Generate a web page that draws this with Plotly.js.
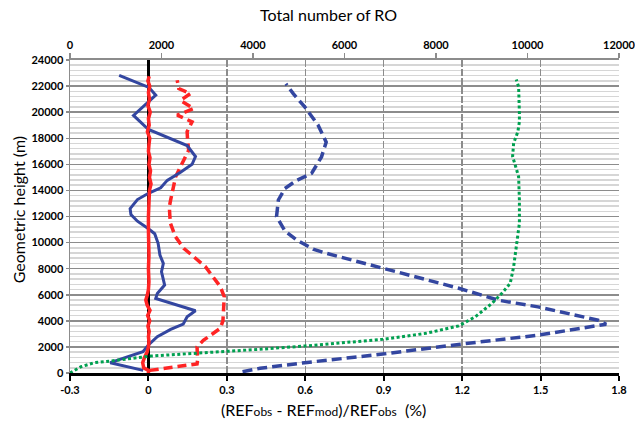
<!DOCTYPE html>
<html>
<head>
<meta charset="utf-8">
<script src="https://cdn.plot.ly/plotly-3.0.1.min.js"></script>
<style>html,body{margin:0;padding:0;background:#fff;}#chart{width:635px;height:430px;}</style>
</head>
<body>
<div id="chart"></div>
<script>
// ---- Data ----
// Blue solid: relative difference (%) vs geometric height (m)
const blueSolidH = [200, 790, 1250, 1640, 2150, 2780, 3340, 3750, 4310, 4770, 5720, 6100, 6740, 7760, 8400, 9040, 9940, 10680, 11060, 11640, 12150, 12600, 13300, 13800, 14200, 14770, 15400, 16000, 16600, 17440, 18670, 19750, 21300, 21900, 22820];
const blueSolidX = [-0.02, -0.146, -0.078, -0.021, 0.0, 0.034, 0.085, 0.133, 0.148, 0.18, 0.028, 0.034, 0.062, 0.05, 0.057, 0.044, 0.037, 0.024, 0.0, -0.042, -0.067, -0.07, -0.042, 0.002, 0.047, 0.072, 0.123, 0.167, 0.18, 0.148, 0.0, -0.057, 0.028, 0.002, -0.112];

// Red solid: relative difference (%) vs height
const redSolidH = [0, 200, 400, 800, 1200, 1600, 2000, 2400, 2800, 3200, 3600, 4000, 4400, 4800, 5200, 5600, 6000, 6400, 7000, 8000, 9000, 10000, 11000, 12000, 13000, 14000, 14500, 15000, 15500, 16000, 16500, 17000, 17500, 18000, 18500, 19000, 19500, 20000, 20500, 21000, 21500, 22000, 22400, 22750];
const redSolidX = [0.0, 0.0, -0.018, -0.022, -0.015, -0.005, 0.0, 0.002, 0.0, 0.003, -0.002, 0.005, -0.003, 0.006, -0.005, -0.01, -0.004, 0.0, 0.002, 0.0, 0.002, 0.0, 0.0, 0.0, 0.002, 0.004, 0.01, 0.004, 0.008, 0.002, 0.006, 0.0, 0.002, 0.005, -0.004, 0.003, 0.0, 0.007, -0.002, 0.004, 0.0, 0.005, -0.002, 0.003];

// Red dashed
const redDashH = [200, 700, 1000, 2000, 2500, 2900, 3430, 4000, 4570, 5200, 5850, 6620, 7260, 8150, 8920, 9560, 10460, 11480, 12000, 12750, 13270, 14000, 15050, 16320, 17080, 17800, 18500, 19260, 19770, 20280, 20900, 21430, 21810, 22450];
const redDashX = [0.005, 0.186, 0.188, 0.186, 0.21, 0.237, 0.275, 0.285, 0.287, 0.29, 0.29, 0.275, 0.25, 0.218, 0.173, 0.135, 0.103, 0.084, 0.082, 0.08, 0.085, 0.092, 0.104, 0.135, 0.154, 0.15, 0.148, 0.167, 0.11, 0.173, 0.123, 0.161, 0.116, 0.11];

// Blue dashed
const blueDashH = [100, 360, 790, 1450, 2210, 2900, 3740, 4050, 5070, 5580, 6500, 8030, 9180, 9500, 10200, 10900, 12000, 13270, 14150, 14770, 15300, 16570, 17700, 19000, 20400, 21420, 22180];
const blueDashX = [0.36, 0.427, 0.598, 0.896, 1.194, 1.49, 1.751, 1.72, 1.49, 1.339, 1.187, 0.896, 0.68, 0.63, 0.567, 0.522, 0.49, 0.497, 0.522, 0.567, 0.624, 0.662, 0.68, 0.649, 0.598, 0.554, 0.526];

// Green dotted: total number of RO (top axis) vs height
const roH = [0, 100, 480, 790, 920, 1300, 1630, 1820, 2070, 2580, 3040, 3610, 4320, 5340, 6110, 6880, 8150, 9430, 10700, 11480, 13270, 15050, 15950, 16600, 17620, 18500, 19270, 19900, 21950, 22500];
const roN = [0, 57, 240, 531, 897, 1766, 3429, 4154, 5131, 6834, 7777, 8497, 8863, 9223, 9440, 9623, 9697, 9749, 9806, 9823, 9823, 9806, 9731, 9674, 9697, 9789, 9823, 9823, 9806, 9754];

// Tick labels
const xTickVals = [-0.3, 0, 0.3, 0.6, 0.9, 1.2, 1.5, 1.8];
const xTickText = ['-0.3', '0', '0.3', '0.6', '0.9', '1.2', '1.5', '1.8'];
const x2TickVals = [0, 2000, 4000, 6000, 8000, 10000, 12000];
const x2TickText = ['0', '2000', '4000', '6000', '8000', '10000', '12000'];
const yTickVals = [0, 2000, 4000, 6000, 8000, 10000, 12000, 14000, 16000, 18000, 20000, 22000, 24000];
const yTickText = yTickVals.map(String);

// ---- Styles ----
const BLUE = '#3346a0';
const RED = '#ff2424';
const GREEN = '#00a050';
const GRID = '#8c8c8c';
const FONT = 'Lato, "Open Sans", sans-serif';
const tickFont = {family: FONT, size: 11, color: '#000', weight: 'bold'};

const traces = [
  {x: roN, y: roH, xaxis: 'x2', yaxis: 'y', mode: 'lines', line: {color: GREEN, width: 3, dash: '3px,2.5px'}, hoverinfo: 'x+y'},
  {x: blueDashX, y: blueDashH, mode: 'lines', line: {color: BLUE, width: 3.5, dash: '10px,5px'}},
  {x: redDashX, y: redDashH, mode: 'lines', line: {color: RED, width: 3.5, dash: '9px,5px'}},
  {x: blueSolidX, y: blueSolidH, mode: 'lines', line: {color: BLUE, width: 3}},
  {x: redSolidX, y: redSolidH, mode: 'lines', line: {color: RED, width: 3.5}}
];

const layout = {
  width: 635, height: 430,
  margin: {l: 70, r: 16, t: 60, b: 57},
  paper_bgcolor: '#fff', plot_bgcolor: '#fff',
  showlegend: false,
  font: {family: FONT, color: '#000'},
  xaxis: {
    range: [-0.3, 1.8], tickmode: 'array', tickvals: xTickVals, ticktext: xTickText,
    showgrid: true, gridcolor: GRID, gridwidth: 1.5, griddash: '7px,2px',
    zeroline: true, zerolinecolor: '#000', zerolinewidth: 3,
    showline: true, linecolor: '#000', linewidth: 3,
    ticks: 'outside', ticklen: 5, tickwidth: 2, tickcolor: '#000',
    tickfont: tickFont, ticklabeloverflow: 'allow', fixedrange: true
  },
  xaxis2: {
    overlaying: 'x', side: 'top', anchor: 'y', range: [0, 12000],
    tickmode: 'array', tickvals: x2TickVals, ticktext: x2TickText,
    showgrid: false, zeroline: false,
    showline: true, linecolor: GRID, linewidth: 2,
    ticks: 'outside', ticklen: 5, tickwidth: 1.5, tickcolor: GRID,
    tickfont: tickFont, ticklabeloverflow: 'allow', fixedrange: true
  },
  yaxis: {
    range: [0, 24000], tickmode: 'array', tickvals: yTickVals, ticktext: yTickText,
    showgrid: true, gridcolor: GRID, gridwidth: 1.5,
    minor: {dtick: 400, tick0: 0, showgrid: true, gridcolor: '#d6d6d6', gridwidth: 1.5},
    zeroline: false,
    showline: true, linecolor: GRID, linewidth: 1.5,
    ticks: 'outside', ticklen: 3, tickwidth: 1.5, tickcolor: GRID,
    tickfont: tickFont, fixedrange: true
  },
  annotations: [
    {text: 'Total number of RO', xref: 'paper', yref: 'paper', x: 0.47, y: 1, yshift: 46,
     xanchor: 'center', yanchor: 'middle', showarrow: false, font: {family: FONT, size: 16, color: '#000'}},
    {text: '(REF<span style="font-size:12px">obs</span> - REF<span style="font-size:12px">mod</span>)/REF<span style="font-size:12px">obs</span>&nbsp; (%)',
     xref: 'paper', yref: 'paper', x: 0.461, y: 0, yshift: -36,
     xanchor: 'center', yanchor: 'middle', showarrow: false, font: {family: FONT, size: 16, color: '#000'}},
    {text: 'Geometric height (m)', xref: 'paper', yref: 'paper', x: 0, xshift: -52, y: 0.52,
     xanchor: 'center', yanchor: 'middle', textangle: -90, showarrow: false, font: {family: FONT, size: 16, color: '#000'}}
  ]
};

Plotly.newPlot('chart', traces, layout, {displayModeBar: false, staticPlot: true});
</script>
</body>
</html>
